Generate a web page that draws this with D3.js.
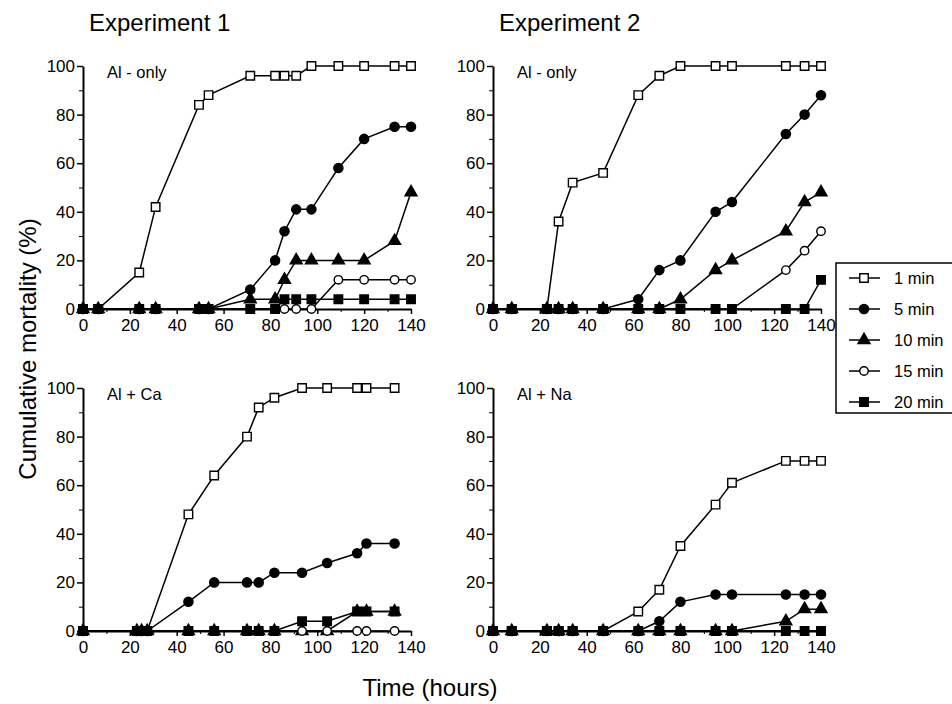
<!DOCTYPE html>
<html>
<head>
<meta charset="utf-8">
<script src="https://cdn.jsdelivr.net/npm/d3@7"></script>
<style>
  body { margin: 0; background: #fff; }
  text { font-family: "Liberation Sans", Arial, Helvetica, sans-serif; fill: #000; }
</style>
</head>
<body>
<svg id="chart" width="952" height="704"></svg>
<script>
// ---- data (hours / % cumulative mortality) ----
const seriesNames = ['1 min', '5 min', '10 min', '15 min', '20 min'];

// Experiment 1, Al - only
const timesE1Al = [0, 6.5, 24, 31, 49.5, 53.6, 71.4, 82, 86, 91, 97.5, 109, 120, 133, 140];
const e1Al1  = [0, 0, 15, 42, 84, 88, 96, 96, 96, 96, 100, 100, 100, 100, 100];
const e1Al5  = [0, 0, 0, 0, 0, 0, 8, 20, 32, 41, 41, 58, 70, 75, 75];
const e1Al10 = [0, 0, 0, 0, 0, 0, 4, 4, 12, 20, 20, 20, 20, 28, 48];
const e1Al15 = [0, 0, 0, 0, 0, 0, 0, 0, 0, 0, 0, 12, 12, 12, 12];
const e1Al20 = [0, 0, 0, 0, 0, 0, 0, 0, 4, 4, 4, 4, 4, 4, 4];

// Experiment 2, Al - only
const timesE2 = [0, 8, 23, 28, 34, 47, 62, 71, 80, 95, 102, 125, 133, 140];
const e2Al1  = [0, 0, 0, 36, 52, 56, 88, 96, 100, 100, 100, 100, 100, 100];
const e2Al5  = [0, 0, 0, 0, 0, 0, 4, 16, 20, 40, 44, 72, 80, 88];
const e2Al10 = [0, 0, 0, 0, 0, 0, 0, 0, 4, 16, 20, 32, 44, 48];
const e2Al15 = [0, 0, 0, 0, 0, 0, 0, 0, 0, 0, 0, 16, 24, 32];
const e2Al20 = [0, 0, 0, 0, 0, 0, 0, 0, 0, 0, 0, 0, 0, 12];

// Experiment 1, Al + Ca
const timesE1Ca = [0, 23, 25, 27.4, 45, 56, 70, 75, 81.7, 93.5, 104.2, 117, 121, 133];
const e1Ca1  = [0, 0, 0, 0, 48, 64, 80, 92, 96, 100, 100, 100, 100, 100];
const e1Ca5  = [0, 0, 0, 0, 12, 20, 20, 20, 24, 24, 28, 32, 36, 36];
const e1Ca10 = [0, 0, 0, 0, 0, 0, 0, 0, 0, 0, 0, 8, 8, 8];
const e1Ca15 = [0, 0, 0, 0, 0, 0, 0, 0, 0, 0, 0, 0, 0, 0];
const e1Ca20 = [0, 0, 0, 0, 0, 0, 0, 0, 0, 4, 4, 8, 8, 8];

// Experiment 2, Al + Na
const e2Na1  = [0, 0, 0, 0, 0, 0, 8, 17, 35, 52, 61, 70, 70, 70];
const e2Na5  = [0, 0, 0, 0, 0, 0, 0, 4, 12, 15, 15, 15, 15, 15];
const e2Na10 = [0, 0, 0, 0, 0, 0, 0, 0, 0, 0, 0, 4, 9, 9];
const e2Na15 = [0, 0, 0, 0, 0, 0, 0, 0, 0, 0, 0, 0, 0, 0];
const e2Na20 = [0, 0, 0, 0, 0, 0, 0, 0, 0, 0, 0, 0, 0, 0];

const xTicks = [0, 20, 40, 60, 80, 100, 120, 140];
const yTicks = [0, 20, 40, 60, 80, 100];

// ---- layout ----
const plotW = 328, plotH = 243;
const panels = [
    {label: 'Al - only', left: 83,  top: 66,  times: timesE1Al, values: [e1Al1, e1Al5, e1Al10, e1Al15, e1Al20]},
    {label: 'Al - only', left: 493, top: 66,  times: timesE2,   values: [e2Al1, e2Al5, e2Al10, e2Al15, e2Al20]},
    {label: 'Al + Ca',   left: 83,  top: 388, times: timesE1Ca, values: [e1Ca1, e1Ca5, e1Ca10, e1Ca15, e1Ca20]},
    {label: 'Al + Na',   left: 493, top: 388, times: timesE2,   values: [e2Na1, e2Na5, e2Na10, e2Na15, e2Na20]}
];

// marker for each series: symbol type + filled or open
const markers = [
    {type: d3.symbolSquare, size: 72, filled: false},
    {type: d3.symbolCircle, size: 66, filled: true},
    {type: d3.symbolTriangle, size: 62, filled: true},
    {type: d3.symbolCircle, size: 56, filled: false},
    {type: d3.symbolSquare, size: 72, filled: true}
];

const svg = d3.select('#chart');

function drawMarker(sel, m) {
    sel.attr('d', d3.symbol().type(m.type).size(m.size))
        .attr('fill', m.filled ? '#000' : '#fff')
        .attr('stroke', '#000')
        .attr('stroke-width', 1.4);
}

panels.forEach(p => {
    const x = d3.scaleLinear().domain([0, 140]).range([p.left, p.left + plotW]);
    const y = d3.scaleLinear().domain([0, 100]).range([p.top + plotH, p.top]);
    const g = svg.append('g');

    // minor ticks
    g.append('g')
        .attr('transform', `translate(${p.left},0)`)
        .call(d3.axisLeft(y).tickValues([10, 30, 50, 70, 90]).tickSize(4).tickFormat(''))
        .call(a => a.select('.domain').remove());
    g.append('g')
        .attr('transform', `translate(0,${p.top + plotH})`)
        .call(d3.axisBottom(x).tickValues([10, 30, 50, 70, 90, 110, 130]).tickSize(3).tickFormat(''))
        .call(a => a.select('.domain').remove());

    const yAxis = g.append('g')
        .attr('transform', `translate(${p.left},0)`)
        .call(d3.axisLeft(y).tickValues(yTicks).tickSize(6).tickPadding(2).tickSizeOuter(0));
    const xAxis = g.append('g')
        .attr('transform', `translate(0,${p.top + plotH})`)
        .call(d3.axisBottom(x).tickValues(xTicks).tickSize(5).tickPadding(5).tickSizeOuter(0));

    [yAxis, xAxis].forEach(a => {
        a.select('.domain').attr('stroke-width', 2);
        a.selectAll('.tick line').attr('stroke-width', 1.5);
        a.selectAll('.tick text').style('font-size', '17px').attr('fill', '#000');
    });
    g.selectAll('.tick line').attr('stroke', '#000');

    g.append('text')
        .attr('x', p.left + 24)
        .attr('y', p.top + 12)
        .style('font-size', '16.5px')
        .text(p.label);

    const line = d3.line()
        .x(d => x(d[0]))
        .y(d => y(d[1]));

    // lines first, then markers so 20 min squares sit on top
    p.values.forEach(vals => {
        const pts = p.times.map((t, i) => [t, vals[i]]);
        g.append('path')
            .datum(pts)
            .attr('d', line)
            .attr('fill', 'none')
            .attr('stroke', '#000')
            .attr('stroke-width', 1.5);
    });
    p.values.forEach((vals, si) => {
        const pts = p.times.map((t, i) => [t, vals[i]]);
        g.selectAll(null)
            .data(pts)
            .enter().append('path')
            .attr('transform', d => `translate(${x(d[0])},${y(d[1])})`)
            .call(drawMarker, markers[si]);
    });
});

// titles
svg.append('text').attr('x', 89).attr('y', 31).style('font-size', '24px').text('Experiment 1');
svg.append('text').attr('x', 499).attr('y', 31).style('font-size', '24px').text('Experiment 2');

svg.append('text')
    .attr('transform', 'translate(36,349) rotate(-90)')
    .attr('text-anchor', 'middle')
    .style('font-size', '24px')
    .text('Cumulative mortality (%)');

svg.append('text')
    .attr('x', 430).attr('y', 696)
    .attr('text-anchor', 'middle')
    .style('font-size', '24px')
    .text('Time (hours)');

// legend
const legend = svg.append('g');
legend.append('rect')
    .attr('x', 836).attr('y', 263)
    .attr('width', 130).attr('height', 150)
    .attr('fill', '#fff')
    .attr('stroke', '#000')
    .attr('stroke-width', 1.5);

seriesNames.forEach((name, i) => {
    const ly = 278 + i * 31;
    legend.append('line')
        .attr('x1', 849).attr('x2', 880)
        .attr('y1', ly).attr('y2', ly)
        .attr('stroke', '#000').attr('stroke-width', 1.5);
    legend.append('path')
        .attr('transform', `translate(864,${ly})`)
        .call(drawMarker, markers[i]);
    legend.append('text')
        .attr('x', 894).attr('y', ly + 6)
        .style('font-size', '16.5px')
        .text(name);
});
</script>
</body>
</html>
